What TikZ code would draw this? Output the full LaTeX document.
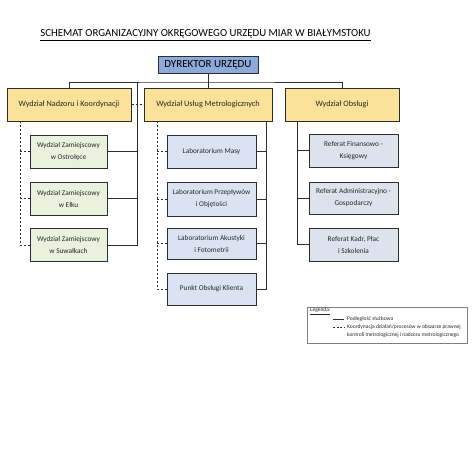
\documentclass[tikz,border=0pt]{standalone}
\usepackage{fontspec}
\setmainfont{Carlito}
\definecolor{dirfill}{RGB}{142,170,218}
\definecolor{divfill}{RGB}{250,226,154}
\definecolor{zamfill}{RGB}{234,241,221}
\definecolor{labfill}{RGB}{219,227,243}
\definecolor{reffill}{RGB}{222,226,236}
\definecolor{edge}{RGB}{45,45,45}
\definecolor{txt}{RGB}{40,40,40}
\tikzset{
  box/.style={draw=edge, line width=1pt, inner sep=1pt, align=center, text=txt},
  dirbox/.style={box, fill=dirfill, minimum width=100pt, minimum height=17pt, font=\fontsize{11}{12}\selectfont, text=black},
  divbox/.style={box, fill=divfill, minimum height=33pt, font=\fontsize{8.2}{9}\selectfont},
  zambox/.style={box, fill=zamfill, minimum width=77pt, minimum height=33pt, font=\fontsize{7.3}{12}\selectfont},
  labbox/.style={box, fill=labfill, minimum width=89pt, minimum height=32pt, font=\fontsize{7.3}{12}\selectfont},
  refbox/.style={box, fill=reffill, minimum width=89pt, minimum height=33pt, font=\fontsize{7.3}{12}\selectfont},
  link/.style={draw=edge, line width=0.8pt},
  coord/.style={draw=edge, line width=0.8pt, dash pattern=on 2pt off 2pt},
  legtext/.style={font=\fontsize{5.5}{6}\selectfont, text=txt, inner sep=0pt, anchor=west}
}
\begin{document}
\begin{tikzpicture}[x=1pt,y=-1pt]
\useasboundingbox[fill=white] (0,0) rectangle (474,474);
% title
\node[font=\fontsize{10.8}{12}\selectfont, text=black] (title) at (205.5,35) {\underline{SCHEMAT ORGANIZACYJNY OKRĘGOWEGO URZĘDU MIAR W BIAŁYMSTOKU}};
% director
\node[dirbox] (dir) at (208,64.5) {DYREKTOR URZĘDU};
% divisions
\node[divbox, minimum width=124pt] (d1) at (69,104.5) {Wydział Nadzoru i Koordynacji};
\node[divbox, minimum width=128pt] (d2) at (208,104.5) {Wydział Usług Metrologicznych};
\node[divbox, minimum width=114pt] (d3) at (342,104.5) {Wydział Obsługi};
% field offices
\node[zambox] (z1) at (68.5,151.5) {Wydział Zamiejscowy\\w Ostrołęce};
\node[zambox] (z2) at (68.5,198.5) {Wydział Zamiejscowy\\w Ełku};
\node[zambox] (z3) at (68.5,245) {Wydział Zamiejscowy\\w Suwałkach};
% labs
\node[labbox, minimum height=33pt] (l1) at (211.5,151.5) {Laboratorium Masy};
\node[labbox, minimum height=34pt] (l2) at (211.5,199) {Laboratorium Przepływów\\i Objętości};
\node[labbox, minimum height=31pt] (l3) at (211.5,243.5) {Laboratorium Akustyki\\i Fotometrii};
\node[labbox] (l4) at (211.5,289) {Punkt Obsługi Klienta};
% referats
\node[refbox] (r1) at (353.5,150.5) {Referat Finansowo -\\Księgowy};
\node[refbox, minimum height=32pt] (r2) at (353.5,198) {Referat Administracyjno -\\Gospodarczy};
\node[refbox] (r3) at (353.5,244.5) {Referat Kadr, Płac\\i Szkolenia};
% helper coordinates
\coordinate (bus) at (208,82);
\coordinate (zb) at (137,82);
\coordinate (zd) at (20,121);
\coordinate (ld) at (157,121);
\coordinate (ls) at (266,121);
\coordinate (rs) at (297,121);
% solid hierarchy
\draw[link] (dir.south) -- (d2.north);
\draw[link] (d1.north) |- (bus) -| (d3.north);
\draw[link] (z3.east) -| (zb);
\draw[link] (z1.east) -- (z1.east -| zb);
\draw[link] (z2.east) -- (z2.east -| zb);
\draw[link] (ls) |- (l4.east);
\draw[link] (l1.east) -- (l1.east -| ls);
\draw[link] (l2.east) -- (l2.east -| ls);
\draw[link] (l3.east) -- (l3.east -| ls);
\draw[link] (rs) |- (r3.west);
\draw[link] (r1.west) -- (r1.west -| rs);
\draw[link] (r2.west) -- (r2.west -| rs);
% dashed coordination
\draw[coord] (d1.east) -- (d2.west);
\draw[coord] (zd) |- (z3.west);
\draw[coord] (z1.west) -- (z1.west -| zd);
\draw[coord] (z2.west) -- (z2.west -| zd);
\draw[coord] (ld) |- (l4.west);
\draw[coord] (l1.west) -- (l1.west -| ld);
\draw[coord] (l2.west) -- (l2.west -| ld);
\draw[coord] (l3.west) -- (l3.west -| ld);
% legend
\node[draw=gray, line width=0.6pt, minimum width=160pt, minimum height=36pt, inner sep=0pt] (leg) at (387,325) {};
\node[legtext] (legt) at (310,311) {\underline{Legenda:}};
\coordinate (la1) at (333,319);
\coordinate (lb1) at (344,319);
\coordinate (la2) at (333,327);
\coordinate (lb2) at (344,327);
\draw[draw=edge, line width=0.6pt] (la1) -- (lb1);
\draw[draw=edge, line width=0.6pt, dash pattern=on 2pt off 1.5pt] (la2) -- (lb2);
\node[legtext] (lt1) at (347,319) {Podległość służbowa};
\node[legtext] (lt2) at (347,327) {Koordynacja działań/procesów w obszarze prawnej};
\node[legtext] (lt3) at (347,335) {kontroli metrologicznej i nadzoru metrologicznego};
\end{tikzpicture}
\end{document}
